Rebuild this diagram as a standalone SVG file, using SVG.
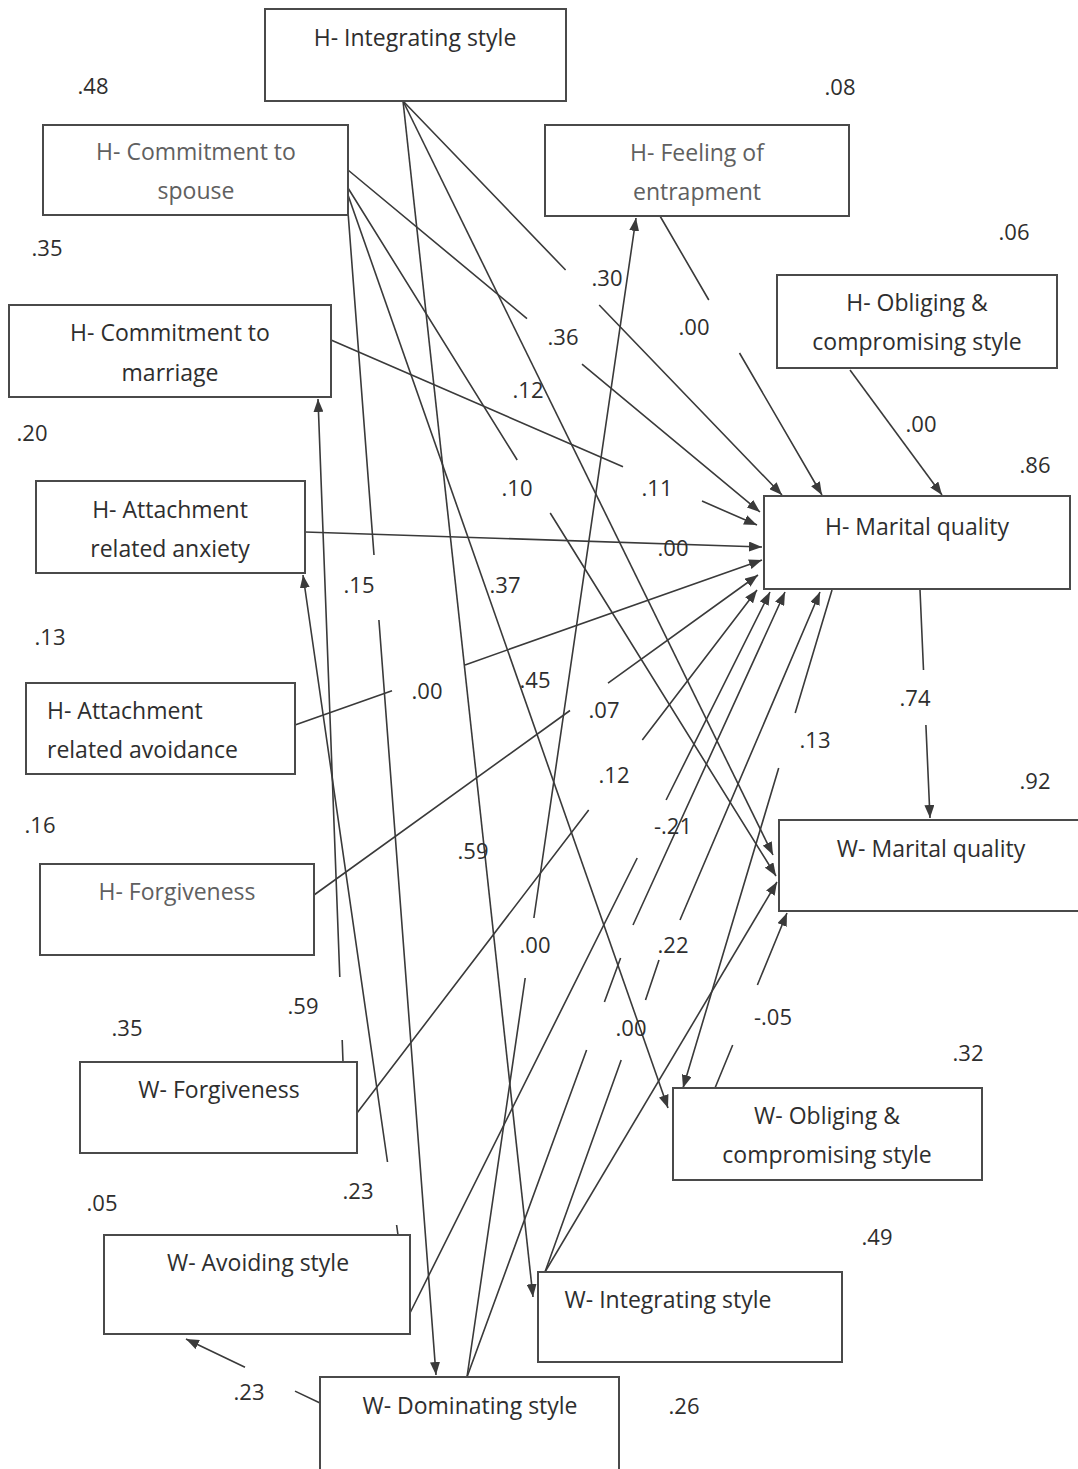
<svg xmlns="http://www.w3.org/2000/svg" width="1078" height="1469" viewBox="0 0 1078 1469">
  <style>
    .box { fill: #ffffff; stroke: #4a4a4a; stroke-width: 2; }
    .lbl { font-family: "Open Sans", "Noto Sans", "DejaVu Sans", sans-serif; font-size: 23px; fill: #2e2e2e; text-anchor: middle; }
    .lbl.soft { fill: #606060; }
    .lbl.left { text-anchor: start; }
    .num { font-family: "Open Sans", "Noto Sans", "DejaVu Sans", sans-serif; font-size: 22px; fill: #2e2e2e; text-anchor: middle; }
    .edge { fill: none; stroke: #3a3a3a; stroke-width: 1.6; }
    .arr { marker-end: url(#tip); }
  </style>
  <defs>
    <marker id="tip" markerUnits="userSpaceOnUse" markerWidth="13" markerHeight="10" refX="13" refY="5" orient="auto">
      <path d="M0,0 L13,5 L0,10 z" fill="#3a3a3a"/>
    </marker>
  </defs>

  <rect width="1078" height="1469" fill="#ffffff"/>

  <!-- paths between variables -->
  <g id="connectors">
    <path class="edge arr" d="M403,101 L565.6,270 M599.2,305 L782,495"/>
    <path class="edge arr" d="M403,101 L533,1297"/>
    <path class="edge arr" d="M403,101 L773,855"/>
    <path class="edge arr" d="M348,170 L527,318.6 M582,364.2 L760,512"/>
    <path class="edge arr" d="M348,188 L517.2,460 M550.2,513 L776,876"/>
    <path class="edge arr" d="M348,195 L668,1108"/>
    <path class="edge arr" d="M348,212 L374,555 M378.9,620 L436,1375"/>
    <path class="edge arr" d="M660,216 L708.8,300 M739.5,353 L822,495"/>
    <path class="edge arr" d="M850,370 L942,495"/>
    <path class="edge arr" d="M331,340 L623,466.8 M702,501.1 L757,525"/>
    <path class="edge arr" d="M305,532 L762,547"/>
    <path class="edge arr" d="M295,725 L392,690.7 M465,664.9 L762,560"/>
    <path class="edge arr" d="M314,895 L570,710.5 M608,683.1 L758,575"/>
    <path class="edge arr" d="M357,1113 L588.7,810 M642.3,740 L757,590"/>
    <path class="edge arr" d="M410,1313 L637.2,858 M666.1,800 L770,592"/>
    <path class="edge arr" d="M467,1377 L586.6,1050 M604.4,1002 L620.6,958 M633,925 L785,592"/>
    <path class="edge arr" d="M545,1272 L621.2,1060 M645.5,1000 L659,960 M680,920 L820,592"/>
    <path class="edge arr" d="M832,590 L795.2,713 M778.7,768 L683,1088"/>
    <path class="edge arr" d="M920,590 L923.5,670 M925.9,725 L930,818"/>
    <path class="edge arr" d="M467,1377 L525.2,978 M533.9,918 L636,218"/>
    <path class="edge arr" d="M343,1062 L342.2,1040 M339.8,977 L318,399"/>
    <path class="edge arr" d="M398,1235 L396.6,1225 M387.5,1162 L303,575"/>
    <path class="edge arr" d="M320,1403 L295,1391.1 M245,1367.2 L186,1339"/>
    <path class="edge arr" d="M715,1088 L732.7,1045 M757.4,985 L787,913"/>
    <path class="edge arr" d="M545,1272 L777,882"/>
  </g>

  <!-- path coefficients -->
  <g id="coefficients">
    <text class="num" x="607" y="286">.30</text>
    <text class="num" x="563" y="345">.36</text>
    <text class="num" x="694" y="335">.00</text>
    <text class="num" x="528" y="398">.12</text>
    <text class="num" x="921" y="432">.00</text>
    <text class="num" x="517" y="496">.10</text>
    <text class="num" x="657" y="496">.11</text>
    <text class="num" x="673" y="556">.00</text>
    <text class="num" x="359" y="593">.15</text>
    <text class="num" x="505" y="593">.37</text>
    <text class="num" x="427" y="699">.00</text>
    <text class="num" x="535" y="688">.45</text>
    <text class="num" x="604" y="718">.07</text>
    <text class="num" x="915" y="706">.74</text>
    <text class="num" x="815" y="748">.13</text>
    <text class="num" x="614" y="783">.12</text>
    <text class="num" x="673" y="834">-.21</text>
    <text class="num" x="473" y="859">.59</text>
    <text class="num" x="535" y="953">.00</text>
    <text class="num" x="673" y="953">.22</text>
    <text class="num" x="631" y="1036">.00</text>
    <text class="num" x="773" y="1025">-.05</text>
  </g>

  <!-- explained variance -->
  <g id="r-squared">
    <text class="num" x="93" y="94">.48</text>
    <text class="num" x="840" y="95">.08</text>
    <text class="num" x="47" y="256">.35</text>
    <text class="num" x="1014" y="240">.06</text>
    <text class="num" x="32" y="441">.20</text>
    <text class="num" x="1035" y="473">.86</text>
    <text class="num" x="50" y="645">.13</text>
    <text class="num" x="40" y="833">.16</text>
    <text class="num" x="1035" y="789">.92</text>
    <text class="num" x="127" y="1036">.35</text>
    <text class="num" x="303" y="1014">.59</text>
    <text class="num" x="968" y="1061">.32</text>
    <text class="num" x="102" y="1211">.05</text>
    <text class="num" x="358" y="1199">.23</text>
    <text class="num" x="877" y="1245">.49</text>
    <text class="num" x="249" y="1400">.23</text>
    <text class="num" x="684" y="1414">.26</text>
  </g>

  <!-- variables -->
  <g id="h-integrating">
    <rect class="box" x="265" y="9" width="301" height="92"/>
    <text class="lbl" x="415" y="46">H- Integrating style</text>
  </g>
  <g id="h-commitment-spouse">
    <rect class="box" x="43" y="125" width="305" height="90"/>
    <text class="lbl soft" x="196" y="160">H- Commitment to</text>
    <text class="lbl soft" x="196" y="199">spouse</text>
  </g>
  <g id="h-entrapment">
    <rect class="box" x="545" y="125" width="304" height="91"/>
    <text class="lbl soft" x="697" y="161">H- Feeling of</text>
    <text class="lbl soft" x="697" y="200">entrapment</text>
  </g>
  <g id="h-obliging">
    <rect class="box" x="777" y="275" width="280" height="93"/>
    <text class="lbl" x="917" y="311">H- Obliging &amp;</text>
    <text class="lbl" x="917" y="350">compromising style</text>
  </g>
  <g id="h-commitment-marriage">
    <rect class="box" x="9" y="305" width="322" height="92"/>
    <text class="lbl" x="170" y="341">H- Commitment to</text>
    <text class="lbl" x="170" y="381">marriage</text>
  </g>
  <g id="h-marital-quality">
    <rect class="box" x="764" y="496" width="306" height="93"/>
    <text class="lbl" x="917" y="535">H- Marital quality</text>
  </g>
  <g id="h-anxiety">
    <rect class="box" x="36" y="481" width="269" height="92"/>
    <text class="lbl" x="170" y="518">H- Attachment</text>
    <text class="lbl" x="170" y="557">related anxiety</text>
  </g>
  <g id="h-avoidance">
    <rect class="box" x="26" y="683" width="269" height="91"/>
    <text class="lbl left" x="47" y="719">H- Attachment</text>
    <text class="lbl left" x="47" y="758">related avoidance</text>
  </g>
  <g id="h-forgiveness">
    <rect class="box" x="40" y="864" width="274" height="91"/>
    <text class="lbl soft" x="177" y="900">H- Forgiveness</text>
  </g>
  <g id="w-marital-quality">
    <rect class="box" x="779" y="820" width="310" height="91"/>
    <text class="lbl" x="931" y="857">W- Marital quality</text>
  </g>
  <g id="w-forgiveness">
    <rect class="box" x="80" y="1062" width="277" height="91"/>
    <text class="lbl" x="219" y="1098">W- Forgiveness</text>
  </g>
  <g id="w-obliging">
    <rect class="box" x="673" y="1088" width="309" height="92"/>
    <text class="lbl" x="827" y="1124">W- Obliging &amp;</text>
    <text class="lbl" x="827" y="1163">compromising style</text>
  </g>
  <g id="w-avoiding">
    <rect class="box" x="104" y="1235" width="306" height="99"/>
    <text class="lbl" x="258" y="1271">W- Avoiding style</text>
  </g>
  <g id="w-integrating">
    <rect class="box" x="538" y="1272" width="304" height="90"/>
    <text class="lbl" x="668" y="1308">W- Integrating style</text>
  </g>
  <g id="w-dominating">
    <rect class="box" x="320" y="1377" width="299" height="100"/>
    <text class="lbl" x="470" y="1414">W- Dominating style</text>
  </g>
</svg>
